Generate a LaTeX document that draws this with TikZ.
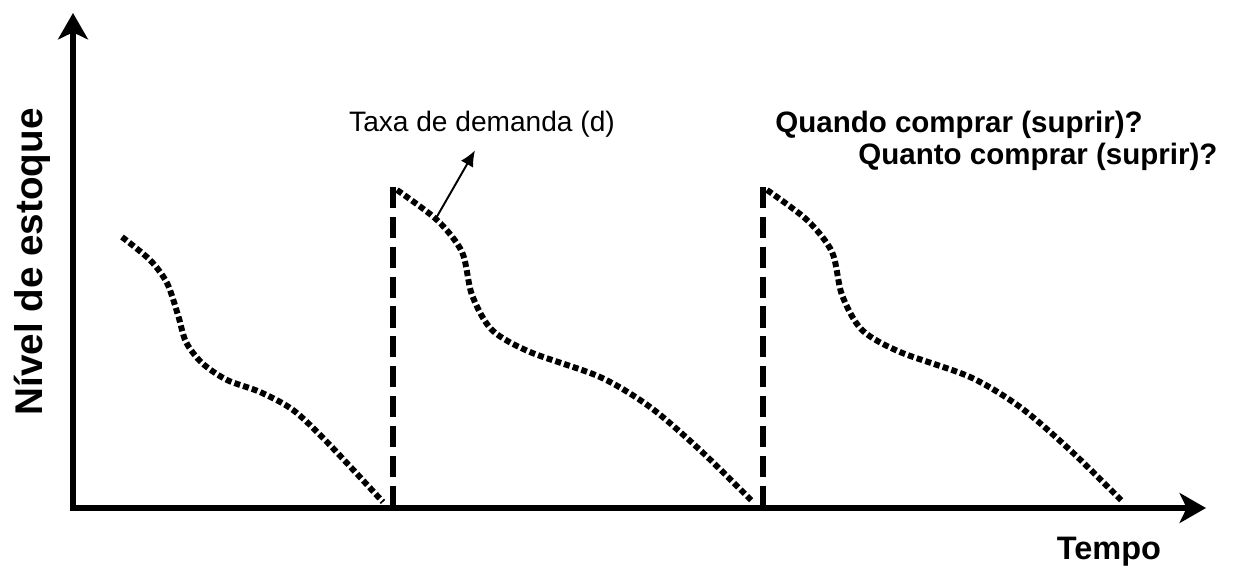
\documentclass[tikz,border=0pt]{standalone}
\usepackage{fontspec}
\setmainfont{Liberation Sans}
\usetikzlibrary{arrows.meta}

\begin{document}
\begin{tikzpicture}[
            x=0.02cm, y=-0.02cm,
            every node/.style={inner sep=0pt},
            axis/.style={line width=3.4pt, line join=miter,
              {Stealth[length=15pt,width=17pt,inset=4pt]}-{Stealth[length=15pt,width=17pt,inset=4pt]}},
            demand/.style={line width=3.4pt, dash pattern=on 3.4pt off 1.8pt},
            reorder/.style={line width=3.4pt, dash pattern=on 12pt off 5pt},
            question/.style={anchor=base west, font=\bfseries\fontsize{16.8}{20}\selectfont},
            to/.style={-{Latex[length=9pt,width=8pt]}, line width=1.1pt, shorten >=8pt}
  ]
  \useasboundingbox (0,0) rectangle (1252,570);

  \coordinate (origin) at (73,508);
  \coordinate (ytop) at (73,13);
  \coordinate (xend) at (1206,508);
  \draw[axis] (ytop) -- (origin) -- (xend);

  \node[rotate=90, anchor=base, font=\bfseries\fontsize{22}{26}\selectfont] (ylabel) at (42,262) {Nível de estoque};
  \node[anchor=base, font=\bfseries\fontsize{18.5}{22}\selectfont] (xlabel) at (1109,560) {Tempo};

  % first cycle
  \draw[demand] plot[smooth] coordinates {(122,237) (150,260) (167,283) (178,315) (186,342) (202,363) (227,380) (260,392) (293,410) (327,442) (383,502)};

  % replenishment and following cycles
  \foreach \dx in {0,370} {
    \begin{scope}[shift={(\dx,0)}]
      \draw[reorder] (393,187) -- (393,508);
      \draw[demand] plot[smooth] coordinates {(397,190) (437,220) (462,252) (472,295) (492,330) (530,352) (600,377) (650,407) (700,450) (753,502)};
    \end{scope}
  }

  \node[anchor=base, font=\fontsize{16}{19}\selectfont] (taxa) at (482,132) {Taxa de demanda (d)};
  \coordinate (dpt) at (435,220);
  \draw[to] (dpt) -- (taxa.south);

  \node[question] (quando) at (775,133) {Quando comprar (suprir)?};
  \node[question] (quanto) at (858,165) {Quanto comprar (suprir)?};

\end{tikzpicture}
\end{document}
